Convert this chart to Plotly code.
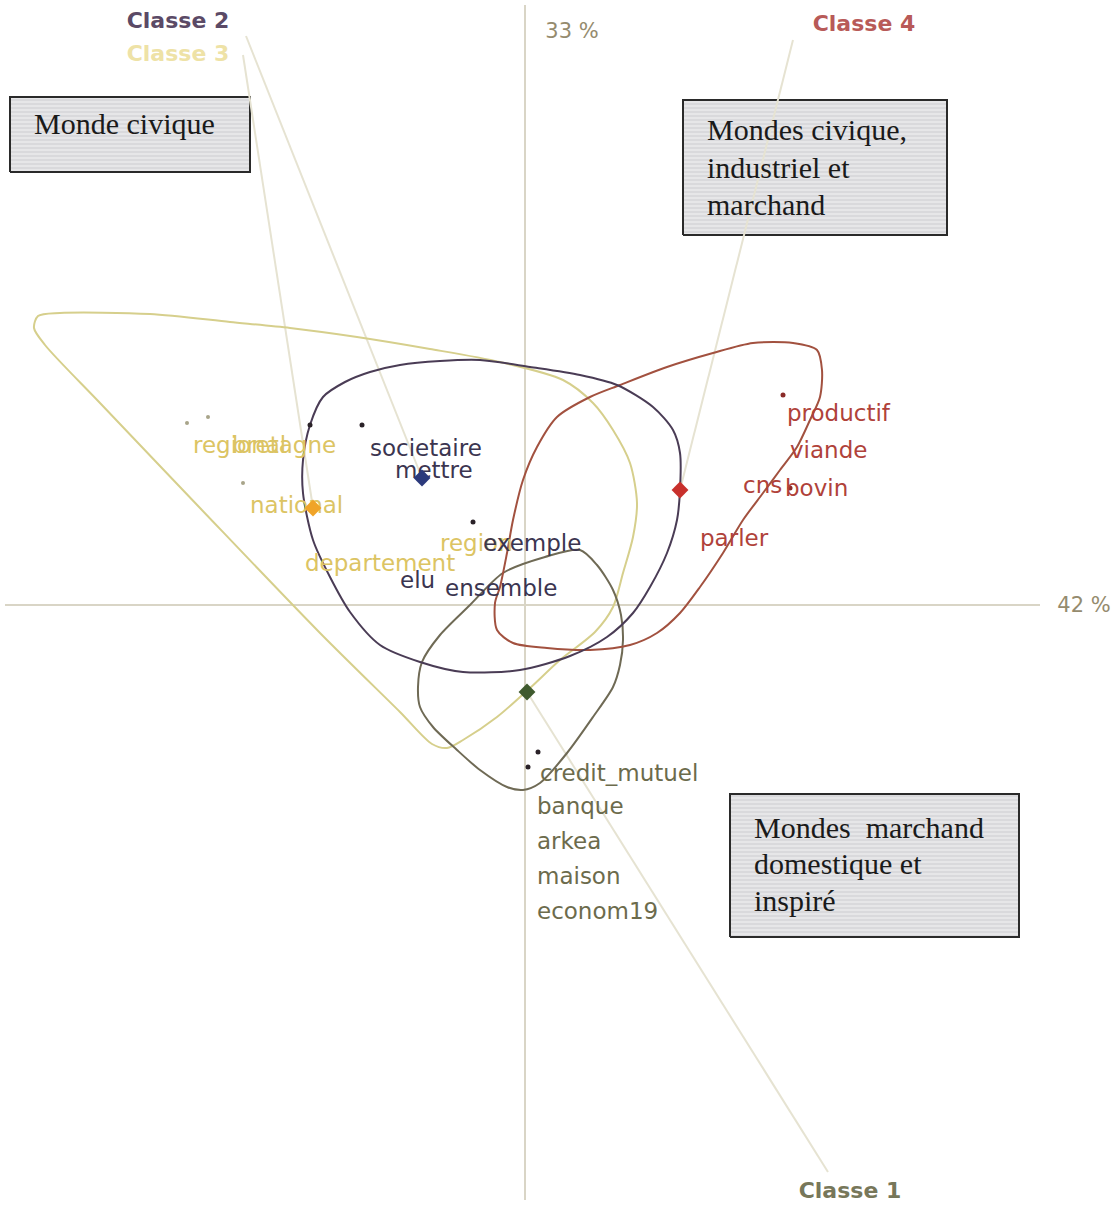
import plotly.graph_objects as go

# factor plane coordinates (origin at the crossing of the two axes)
axis_x_extent = [-520, 515]
axis_y_extent = [-595, 600]

# class contours
classe2_x = [-215, -202, -180, -155, -125, -85, -45, 5, 55, 92, 128, 148, 155, 155, 152, 142, 125, 108, 82, 45,
             -5, -62, -105, -145, -175, -195, -212, -222, -222, -215]
classe2_y = [180, 208, 223, 233, 240, 244, 245, 238, 230, 220, 198, 175, 152, 115, 85, 52, 18, -8, -32, -51,
             -65, -67, -57, -40, -7, 28, 65, 112, 145, 180]

classe4_x = [95, 142, 188, 228, 268, 292, 297, 295, 285, 272, 255, 238, 218, 198, 175, 155, 132, 105, 65, 22,
             -12, -28, -30, -25, -18, -12, -2, 12, 32, 65, 95]
classe4_y = [220, 238, 252, 262, 262, 255, 235, 208, 185, 158, 135, 112, 85, 52, 18, -8, -28, -40, -45, -43,
             -38, -25, 2, 18, 52, 85, 125, 158, 188, 208, 220]

classe3_x = [-487, -465, -375, -295, -235, -168, -95, -25, 38, 68, 88, 105, 112, 108, 98, 88, 70, 35, 5, -28,
             -62, -78, -93, -125, -205, -325, -425, -480, -491, -487]
classe3_y = [289, 292, 291, 283, 277, 268, 256, 243, 225, 202, 175, 142, 102, 68, 32, -2, -27, -55, -83, -112,
             -135, -143, -139, -107, -28, 97, 202, 260, 277, 289]

classe1_x = [55, 72, 88, 96, 98, 95, 88, 68, 42, 15, -2, -18, -45, -68, -92, -105, -107, -103, -85, -55,
             -22, 20, 55]
classe1_y = [55, 40, 15, -10, -35, -60, -82, -112, -148, -178, -185, -182, -165, -145, -122, -102, -82, -57,
             -30, 0, 32, 48, 55]

# class centroids
centroid_names = ["Classe 1", "Classe 2", "Classe 3", "Classe 4"]
centroid_x = [2, -103, -212, 155]
centroid_y = [-87, 127, 97, 115]

# class title labels (where the leader lines start)
title_x = [325, -347, -347, 339]
title_y = [-587, 583, 550, 580]
leader_x = [303, -279, -282, 268]
leader_y = [-567, 569, 550, 565]

# words of each class
words3 = ["regional", "bretagne", "national", "departement", "region"]
words3_x = [-332, -293, -275, -220, -85]
words3_y = [158, 158, 98, 40, 60]

words2 = ["societaire", "mettre", "exemple", "elu", "ensemble"]
words2_x = [-155, -130, -42, -125, -80]
words2_y = [155, 133, 60, 23, 15]

words4 = ["productif", "viande", "cns", "bovin", "parler"]
words4_x = [262, 265, 218, 260, 175]
words4_y = [190, 153, 118, 115, 65]

words1 = ["credit_mutuel", "banque", "arkea", "maison", "econom19"]
words1_x = [15, 12, 12, 12, 12]
words1_y = [-170, -203, -238, -273, -308]

# small plotted points
dots_x = [-215, -163, -52, 13, 3]
dots_y = [180, 180, 83, -147, -162]
red_dots_x = [258, 265]
red_dots_y = [210, 117]
grey_dots_x = [-338, -317, -282]
grey_dots_y = [182, 188, 122]

# axis inertia labels
inertia_labels = ["33 %", "42 %"]
inertia_x = [47, 559]
inertia_y = [572, -2]

# annotation boxes
boxes = [
    dict(x0=-515, x1=-275, y0=433, y1=508, lines=["Monde civique"], ys=[482]),
    dict(x0=158, x1=422, y0=370, y1=505,
         lines=["Mondes civique,", "industriel et", "marchand"], ys=[476, 438, 401]),
    dict(x0=205, x1=494, y0=-332, y1=-189,
         lines=["Mondes  marchand", "domestique et", "inspiré"], ys=[-222, -258, -295]),
]

SANS = "DejaVu Sans"
SERIF = "Liberation Serif"

fig = go.Figure()

# boxes with striped grey fill
for b in boxes:
    fig.add_trace(go.Scatter(
        x=[b["x0"], b["x1"], b["x1"], b["x0"], b["x0"]],
        y=[b["y0"], b["y0"], b["y1"], b["y1"], b["y0"]],
        mode="lines", fill="toself", fillcolor="#dadadd",
        fillpattern=dict(shape="-", fgcolor="#ffffff", bgcolor="#d9d9dc", size=4, solidity=0.35),
        line=dict(color="#2a2a2a", width=2), hoverinfo="skip",
    ))

# axes
fig.add_trace(go.Scatter(x=[0, 0], y=axis_y_extent, mode="lines",
                         line=dict(color="#d9d5c6", width=2), hoverinfo="skip"))
fig.add_trace(go.Scatter(x=axis_x_extent, y=[0, 0], mode="lines",
                         line=dict(color="#d9d5c6", width=2), hoverinfo="skip"))

# leader lines from class titles to centroids
for i in range(4):
    fig.add_trace(go.Scatter(x=[leader_x[i], centroid_x[i]], y=[leader_y[i], centroid_y[i]], mode="lines",
                             line=dict(color="#e6e3d2", width=2), hoverinfo="skip"))

# contours
contours = [
    (classe3_x, classe3_y, "#d6cf8c"),
    (classe1_x, classe1_y, "#6f6a55"),
    (classe4_x, classe4_y, "#a2513f"),
    (classe2_x, classe2_y, "#4a3c55"),
]
for cx, cy, col in contours:
    fig.add_trace(go.Scatter(x=cx, y=cy, mode="lines", line=dict(color=col, width=2, shape="spline", smoothing=0.8),
                             hoverinfo="skip"))

# points
fig.add_trace(go.Scatter(x=grey_dots_x, y=grey_dots_y, mode="markers",
                         marker=dict(color="#a8a48a", size=4), hoverinfo="skip"))
fig.add_trace(go.Scatter(x=dots_x, y=dots_y, mode="markers",
                         marker=dict(color="#2a2228", size=5), hoverinfo="skip"))
fig.add_trace(go.Scatter(x=red_dots_x, y=red_dots_y, mode="markers",
                         marker=dict(color="#8a2a28", size=5), hoverinfo="skip"))

# words
for wx, wy, wt, col in [
    (words3_x, words3_y, words3, "#dcc463"),
    (words2_x, words2_y, words2, "#3b3550"),
    (words4_x, words4_y, words4, "#b0423a"),
    (words1_x, words1_y, words1, "#6c6b4c"),
]:
    fig.add_trace(go.Scatter(x=wx, y=wy, text=wt, mode="text", textposition="middle right",
                             textfont=dict(family=SANS, size=23, color=col), hoverinfo="skip"))

# centroids
fig.add_trace(go.Scatter(x=centroid_x, y=centroid_y, mode="markers",
                         marker=dict(symbol="diamond", size=13,
                                     color=["#3f5a2e", "#2c3a7c", "#f0a428", "#c8302c"],
                                     line=dict(width=0)), hoverinfo="skip"))

# class titles
title_colors = ["#77775a", "#5b4a66", "#eee2a6", "#b85a58"]
fig.add_trace(go.Scatter(x=title_x, y=title_y, text=centroid_names, mode="text", textposition="middle center",
                         textfont=dict(family=SANS, size=22, color=title_colors, weight="bold"),
                         hoverinfo="skip"))

fig.add_trace(go.Scatter(x=inertia_x, y=inertia_y, text=inertia_labels, mode="text", textposition="middle center",
                         textfont=dict(family=SANS, size=21, color="#958b6e"), hoverinfo="skip"))

# box texts
for b in boxes:
    for line, ly in zip(b["lines"], b["ys"]):
        fig.add_annotation(x=b["x0"] + 22, y=ly, text=line, showarrow=False, xanchor="left", yanchor="middle",
                           font=dict(family=SERIF, size=30, color="#1a1a1a"))

fig.update_layout(
    width=1118, height=1208, autosize=False,
    margin=dict(l=0, r=0, t=0, b=0),
    paper_bgcolor="white", plot_bgcolor="white",
    showlegend=False,
    xaxis=dict(range=[-525, 593], visible=False, fixedrange=True),
    yaxis=dict(range=[-603, 605], visible=False, fixedrange=True),
)

fig.write_html("out.html", config={"displayModeBar": False},
               post_script="document.body.style.margin='0';")
